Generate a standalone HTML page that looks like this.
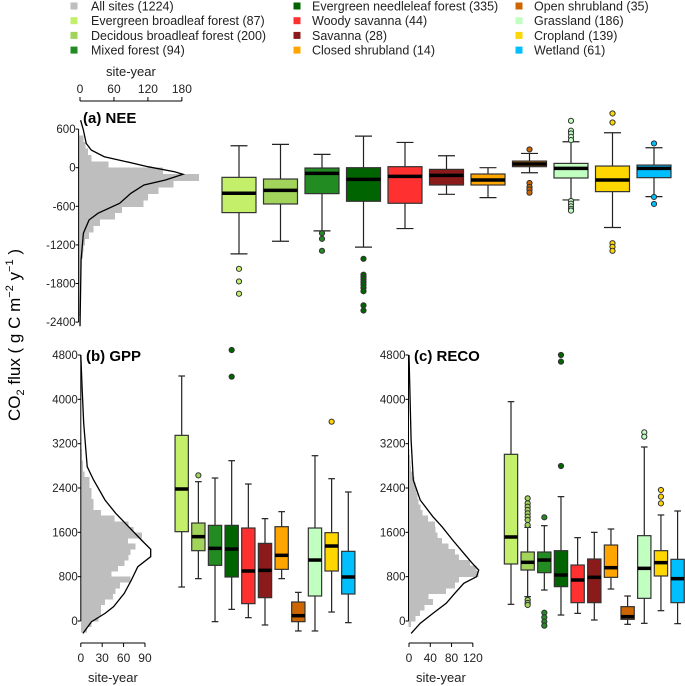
<!DOCTYPE html>
<html><head><meta charset="utf-8">
<style>
html,body{margin:0;padding:0;background:#fff;}
svg{display:block;font-family:"Liberation Sans",Arial,sans-serif;}
</style></head>
<body>
<svg id="chart" width="685" height="686" viewBox="0 0 685 686" xmlns="http://www.w3.org/2000/svg">
<g id="legend"></g>
<g id="pa"></g>
<g id="pb"></g>
<g id="pc"></g>
<text transform="translate(20,335) rotate(-90)" text-anchor="middle" font-size="17" fill="#000">CO<tspan font-size="11" dy="4">2</tspan><tspan dy="-4"> flux ( g C m</tspan><tspan font-size="11" dy="-7">−2</tspan><tspan dy="7"> y</tspan><tspan font-size="11" dy="-7">−1</tspan><tspan dy="7"> )</tspan></text>
</svg>
<script>
const categories = ["Evergreen broadleaf forest","Decidous broadleaf forest","Mixed forest","Evergreen needleleaf forest","Woody savanna","Savanna","Closed shrubland","Open shrubland","Grassland","Cropland","Wetland"];
const siteCounts = [87,200,94,335,44,28,14,35,186,139,61];
const colors = ["#c3ef6a","#a2d35b","#228b22","#006400","#ff3030","#8b1a1a","#ffa500","#cd6600","#c1ffc1","#ffd700","#00bfff"];
// [whiskerLow, Q1, median, Q3, whiskerHigh]
const neeStats = [[-1339,-698,-398,-150,341],[-1143,-564,-352,-176,362],[-982,-403,-88,-5,207],[-1235,-522,-181,0,491],[-946,-553,-134,16,393],[-414,-269,-119,-26,186],[-465,-269,-191,-98,0],[-78,16,57,103,222],[-501,-160,-10,67,403],[-930,-372,-191,26,543],[-450,-155,-10,41,310]];
const neeOut = [[-1572,-1768,-1959],[],[-1018,-1106,-1292],[-1416,-1664,-1700,-1740,-1780,-1820,-1870,-1920,-2140,-2220],[],[],[],[284,-238,-300,-340,-388],[729,574,532,480,429,-517,-560,-600,-640,-667],[843,703,-1174,-1230,-1292],[377,-455,-564]];
const gppStats = [[613,1612,2382,3350,4421],[764,1269,1522,1768,2514],[-12,1004,1311,1726,2580],[210,794,1299,1726,2893],[60,313,902,1678,2472],[-72,421,914,1401,1847],[764,932,1185,1702,1973],[-180,-12,96,343,517],[-180,451,1100,1678,2983],[162,902,1353,1594,2568],[-30,487,794,1257,2328]];
const gppOut = [[],[2628],[],[4890,4409],[],[],[],[],[],[3597],[]];
const recoStats = [[301,1029,1516,3008,3958],[439,920,1059,1245,1690],[559,872,1100,1245,1720],[108,620,830,1269,2244],[138,331,740,1010,1504],[18,331,788,1119,1600],[577,788,962,1371,1660],[-60,30,78,259,451],[-42,409,950,1540,3140],[186,812,1053,1269,1913],[-48,331,764,1113,1985]];
const recoOut = [[],[2214,2123,2063,2003,1943,1883,1823,1732,379,325,289],[1871,150,66,-12,-84],[4800,4680,2797],[],[],[],[],[3404,3326],[2364,2244,2123],[]];
// histograms: bin lower edges (width 100) and counts
const neeBins = [400,300,200,100,0,-100,-200,-300,-400,-500,-600,-700,-800,-900,-1000,-1100,-1200,-1300,-1400,-1500,-1600,-1700,-1800,-1900,-2000,-2100,-2200,-2300];
const neeCounts = [6,10,14,20,50,147,210,165,139,120,112,74,62,35,24,16,9,6,5,3,3,2,2,1,1,1,1,1];
const gppBins = [3200,3100,3000,2900,2800,2700,2600,2500,2400,2300,2200,2100,2000,1900,1800,1700,1600,1500,1400,1300,1200,1100,1000,900,800,700,600,500,400,300,200,100,0,-100,-200];
const gppCounts = [1,1,2,2,3,3,5,12,12,15,15,18,18,28,47,67,74,86,66,77,70,67,61,52,43,70,55,49,45,34,28,28,25,15,9];
const recoBins = [3000,2900,2800,2700,2600,2500,2400,2300,2200,2100,2000,1900,1800,1700,1600,1500,1400,1300,1200,1100,1000,900,800,700,600,500,400,300,200,100,0,-100];
const recoCounts = [1,2,3,4,8,10,12,14,16,18,22,25,36,49,50,54,62,74,86,94,115,127,131,94,86,70,37,45,29,21,12,4];
// density curves (value, count)
const neeDensV = [739,584,377,274,171,93,16,-62,-103,-191,-269,-398,-553,-708,-812,-1018,-1432,-2466];
const neeDensC = [1,6,11,20,43,82,120,167,182,151,113,90,70,32,16,6,2,0];
const gppDensV = [4800,4168,3567,2785,2544,2183,1943,1702,1462,1293,1161,980,740,499,259,138,-12,-223];
const gppDensC = [0,2,4,9,18,34,49,67,85,98,98,80,71,61,46,34,15,3];
const recoDensV = [4800,3266,2544,2183,1883,1702,1462,1221,1041,920,800,680,499,319,138,-42,-223];
const recoDensC = [0,4,8,21,45,62,82,103,119,131,127,103,86,70,45,21,4];
const neeTicks = [600,0,-600,-1200,-1800,-2400];
const fluxTicks = [4800,4000,3200,2400,1600,800,0];
const neeHistTicks = [0,60,120,180];
const gppHistTicks = [0,30,60,90];
const recoHistTicks = [0,40,80,120];

const NS="http://www.w3.org/2000/svg";
function mk(parent,tag,attrs,txt){const e=document.createElementNS(NS,tag);for(const k in attrs)e.setAttribute(k,attrs[k]);if(txt!==undefined)e.textContent=txt;parent.appendChild(e);return e;}

const lg=document.getElementById('legend');
const legendItems=[["All sites (1224)","#bebebe"]].concat(categories.map((c,i)=>[c+" ("+siteCounts[i]+")",colors[i]]));
legendItems.forEach((it,i)=>{
  const col=Math.floor(i/4), row=i%4;
  const xs=[74,297,519][col], xt=[91,312,534][col];
  const y=6+row*14.7;
  const g=mk(lg,'g',{});
  
  
  mk(g,'rect',{x:xs-3.5,y:y-3.5,width:7,height:7,fill:it[1]});
  mk(g,'text',{x:xt,y:y+4.5,'font-size':12.5,fill:'#222'},it[0]);
});

function panel(g,opt){
  const yv=opt.y, hx=opt.hx;
  opt.bins.forEach((b,i)=>{
    const r=mk(g,'rect',{x:opt.ax,y:yv(b+100),width:Math.max(0,hx(opt.counts[i])-opt.ax),height:yv(b)-yv(b+100)+0.5,fill:'#bebebe','shape-rendering':'crispEdges'});
    
    
  });
  const d=opt.dv.map((v,i)=>(i?'L':'M')+hx(opt.dc[i]).toFixed(1)+','+yv(v).toFixed(1)).join(' ');
  const p=mk(g,'path',{d:d,fill:'none',stroke:'#000','stroke-width':1.3});
  
  
  const ya=mk(g,'line',{x1:opt.ax,x2:opt.ax,y1:yv(opt.yt[0]),y2:yv(opt.yt[opt.yt.length-1]),stroke:'#000','stroke-width':1});
  
  
  opt.yt.forEach(t=>{
    mk(g,'line',{x1:opt.ax-3,x2:opt.ax,y1:yv(t),y2:yv(t),stroke:'#000'});
    const tl=mk(g,'text',{x:opt.ax-3,y:yv(t)+4,'text-anchor':'end','font-size':11.5,fill:'#222'},String(t));
    
    
  });
  const cy=opt.cy, dir=opt.top?-1:1;
  const ca=mk(g,'line',{x1:hx(opt.ct[0]),x2:hx(opt.ct[opt.ct.length-1]),y1:cy,y2:cy,stroke:'#000'});
  
  
  opt.ct.forEach(t=>{
    mk(g,'line',{x1:hx(t),x2:hx(t),y1:cy,y2:cy+dir*4,stroke:'#000'});
    const tl=mk(g,'text',{x:hx(t),y:opt.top?cy-8:cy+19,'text-anchor':'middle','font-size':12,fill:'#222'},String(t));
    
    
  });
  const mid=(hx(opt.ct[0])+hx(opt.ct[opt.ct.length-1]))/2;
  const ct=mk(g,'text',{x:mid,y:opt.top?cy-25:cy+39,'text-anchor':'middle','font-size':13,fill:'#222'},'site-year');
  
  
  const tt=mk(g,'text',{x:opt.tx,y:opt.ty,'font-size':15,'font-weight':'bold',fill:'#000'},opt.title);
  
  
  opt.stats.forEach((s,i)=>{
    const cx=opt.bx(i), w=opt.bw, bg=mk(g,'g',{});
    
    
    mk(bg,'line',{x1:cx,x2:cx,y1:yv(s[0]),y2:yv(s[4]),stroke:'#222','stroke-width':1.2});
    mk(bg,'line',{x1:cx-w/4,x2:cx+w/4,y1:yv(s[0]),y2:yv(s[0]),stroke:'#222','stroke-width':1.2});
    mk(bg,'line',{x1:cx-w/4,x2:cx+w/4,y1:yv(s[4]),y2:yv(s[4]),stroke:'#222','stroke-width':1.2});
    mk(bg,'rect',{x:cx-w/2,y:yv(s[3]),width:w,height:yv(s[1])-yv(s[3]),fill:colors[i],stroke:'#333','stroke-width':1.2});
    mk(bg,'line',{x1:cx-w/2,x2:cx+w/2,y1:yv(s[2]),y2:yv(s[2]),stroke:'#000','stroke-width':3.5});
    opt.out[i].forEach(o=>{
      const c=mk(bg,'circle',{cx:cx,cy:yv(o),r:2.6,fill:colors[i],stroke:'#333','stroke-width':1});
      
      
    });
  });
}
const yA=v=>167.7-v*38.6/600;
const yBC=v=>621-v*266/4800;
panel(document.getElementById('pa'),{y:yA,hx:c=>80+c*0.566,ax:78.6,bins:neeBins,counts:neeCounts,dv:neeDensV,dc:neeDensC,yt:neeTicks,ct:neeHistTicks,cy:101,top:true,title:'(a) NEE',tx:83,ty:123,stats:neeStats,out:neeOut,bx:i=>239+i*41.5,bw:34});
panel(document.getElementById('pb'),{y:yBC,hx:c=>80.8+c*0.713,ax:80.8,bins:gppBins,counts:gppCounts,dv:gppDensV,dc:gppDensC,yt:fluxTicks,ct:gppHistTicks,cy:643,top:false,title:'(b) GPP',tx:86,ty:361,stats:gppStats,out:gppOut,bx:i=>181.7+i*16.66,bw:13.3});
panel(document.getElementById('pc'),{y:yBC,hx:c=>409+c*0.532,ax:408.5,bins:recoBins,counts:recoCounts,dv:recoDensV,dc:recoDensC,yt:fluxTicks,ct:recoHistTicks,cy:643,top:false,title:'(c) RECO',tx:414,ty:361,stats:recoStats,out:recoOut,bx:i=>511+i*16.66,bw:13.3});
</script>
</body></html>
